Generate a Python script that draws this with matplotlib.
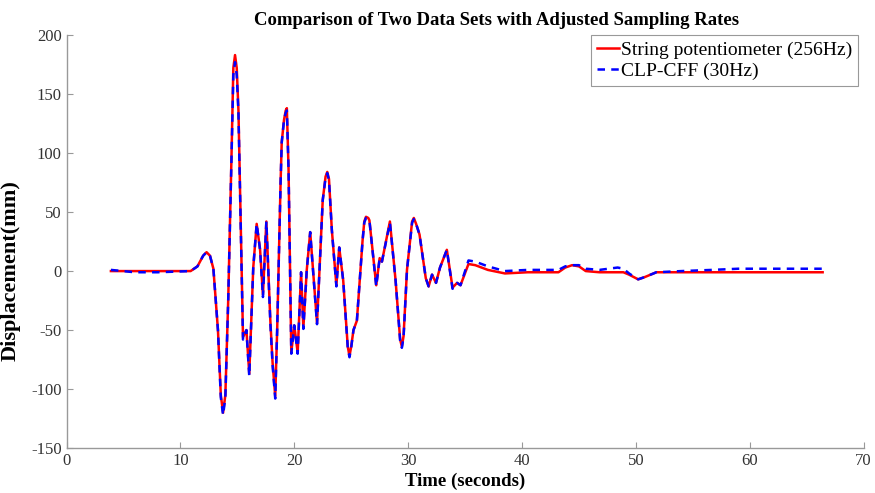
import matplotlib
matplotlib.use('Agg')
import matplotlib.pyplot as plt

plt.rcParams['font.family'] = ['Liberation Serif', 'DejaVu Serif']
plt.rcParams['axes.unicode_minus'] = False

# waypoints (time in s, displacement in mm)
t_string = [3.9, 10.9, 11.5, 12.0, 12.3, 12.6, 12.9, 13.3, 13.55, 13.75, 13.95, 14.2,
            14.5, 14.65, 14.8, 14.95, 15.1, 15.5, 15.8, 16.05, 16.4, 16.7, 17.0, 17.25,
            17.55, 17.9, 18.1, 18.33, 18.5, 18.8, 18.9, 19.1, 19.25, 19.35, 19.5,
            19.74, 20.0, 20.3, 20.6, 20.8, 21.1, 21.4, 22.0, 22.5, 22.75, 22.9, 23.05,
            23.3, 23.7, 23.95, 24.3, 24.7, 24.85, 25.0, 25.2, 25.5, 26.0, 26.15, 26.3,
            26.5, 26.6, 27.2, 27.5, 27.7, 28.4, 28.9, 29.3, 29.45, 29.6, 29.9, 30.35,
            30.5, 30.7, 31.0, 31.55, 31.8, 32.1, 32.45, 32.8, 33.4, 33.9, 34.3, 34.6,
            35.3, 35.9, 37.0, 38.5, 40.5, 43.2, 43.8, 44.4, 45.0, 45.6, 46.8, 48.9,
            49.4, 50.2, 50.8, 51.8, 56.7, 66.4]
d_string = [0, 0, 4, 13, 16, 13, 2, -50, -105, -120, -105, -25,
            102, 172, 183, 172, 136, -56, -50, -87, 3, 40, 18, -20,
            42, -42, -78, -106, -50, 75, 109, 128, 136, 138, 86,
            -69, -46, -69, -1, -48, 1, 33, -44, 60, 80, 84, 78,
            35, -12, 20, -8, -64, -72, -64, -50, -42, 26, 42, 46,
            45, 43, -12, 11, 8, 42, -8, -58, -64, -55, 1, 42,
            45, 40, 31, -6, -13, -3, -10, 3, 18, -14, -10, -12,
            6, 5, 1, -2, -1, -1, 3, 5, 4, 0, -1, -1,
            -3, -7, -5, -1, -1, -1]

t_clp = [3.9, 6.0, 8.0, 10.9, 11.5, 12.0, 12.3, 12.6, 12.9, 13.3, 13.55, 13.75, 13.95, 14.2,
         14.5, 14.65, 14.8, 14.95, 15.1, 15.5, 15.8, 16.05, 16.4, 16.7, 17.0, 17.25,
         17.55, 17.9, 18.1, 18.33, 18.5, 18.8, 18.9, 19.1, 19.25, 19.35, 19.5,
         19.74, 20.0, 20.3, 20.6, 20.8, 21.1, 21.4, 22.0, 22.5, 22.75, 22.9, 23.05,
         23.3, 23.7, 23.95, 24.3, 24.7, 24.85, 25.0, 25.2, 25.5, 26.0, 26.15, 26.3,
         26.5, 26.6, 27.2, 27.5, 27.7, 28.4, 28.9, 29.3, 29.45, 29.6, 29.9, 30.35,
         30.5, 30.7, 31.0, 31.55, 31.8, 32.1, 32.45, 32.8, 33.4, 33.9, 34.3, 34.6,
         35.3, 35.9, 37.0, 38.5, 40.5, 43.2, 43.8, 44.4, 45.0, 45.6, 46.8, 48.4, 48.9,
         49.4, 50.2, 50.8, 51.8, 54.0, 56.7, 59.0, 62.0, 64.0, 66.4]
d_clp = [1, -1, -1, 0, 4, 13, 16, 13, 2, -50, -107, -122, -107, -25,
         100, 166, 177, 166, 134, -58, -50, -89, 3, 40, 18, -22,
         42, -44, -80, -108, -50, 75, 109, 128, 134, 136, 86,
         -70, -46, -70, -1, -49, 1, 33, -45, 60, 79, 83, 77,
         35, -13, 20, -8, -65, -73, -65, -50, -42, 26, 41, 45,
         44, 43, -13, 11, 8, 41, -8, -59, -65, -56, 1, 41,
         44, 40, 31, -6, -13, -3, -10, 3, 18, -15, -10, -12,
         9, 8, 4, 0, 1, 1, 4, 5, 5, 2, 1, 3, 2,
         -2, -7, -5, -1, 0, 1, 2, 2, 2, 2]

fig = plt.figure(figsize=(8.75, 4.93), dpi=100)
ax = fig.add_axes([0.076, 0.091, 0.911, 0.838])

ax.plot(t_string, d_string, color='red', linewidth=1.8, label='String potentiometer (256Hz)')
ax.plot(t_clp, d_clp, color='blue', linewidth=1.8, linestyle=(0, (3, 2.5)), label='CLP-CFF (30Hz)')

ax.set_xlim(0, 70)
ax.set_ylim(-150, 200)
ax.set_xticks(range(0, 71, 10))
ax.set_yticks(range(-150, 201, 50))

for side in ['top', 'right']:
    ax.spines[side].set_visible(False)
for side in ['left', 'bottom']:
    ax.spines[side].set_color('#999999')
    ax.spines[side].set_linewidth(1.0)
ax.tick_params(direction='in', length=4, colors='#999999', labelcolor='#333333', labelsize=12)

ax.set_title('Comparison of Two Data Sets with Adjusted Sampling Rates',
             fontsize=13.5, fontweight='bold', pad=7, x=0.54)
ax.set_xlabel('Time (seconds)', fontsize=13.5, fontweight='bold', labelpad=3)
ax.set_ylabel('Displacement(mm)', fontsize=16, fontweight='bold')
ax.yaxis.set_label_coords(-0.058, 0.431)

leg = ax.legend(loc='upper right', fontsize=14, handlelength=1.1, handletextpad=0.1,
                borderpad=0.3, labelspacing=0.2, fancybox=False, framealpha=1,
                borderaxespad=0, bbox_to_anchor=(0.9925, 1.0))
leg.get_frame().set_edgecolor('#999999')
leg.get_frame().set_linewidth(0.8)

fig.savefig('out.png', dpi=100)
